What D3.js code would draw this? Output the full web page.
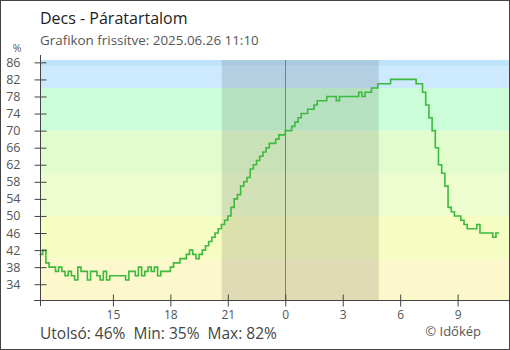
<!DOCTYPE html>
<html>
<head>
<meta charset="utf-8">
<script src="https://cdn.jsdelivr.net/npm/d3@7"></script>
<style>
body { margin: 0; background: #fff; }
text { font-family: "Open Sans", sans-serif; }
</style>
</head>
<body>
<div id="chart"></div>
<script>
var w = 510, h = 350;

// humidity, every 10 minutes from 2025.06.25 11:10 to 2025.06.26 11:10
var humidity = [
	41, 42, 39, 38, 38, 37, 38, 37, 36, 37, 36, 35, 38, 37, 37, 35, 37, 37, 36, 35,
	37, 35, 36, 36, 36, 36, 36, 35, 37, 37, 36, 38, 36, 37, 38, 37, 38, 36, 37, 37,
	37, 38, 39, 39, 40, 40, 41, 42, 41, 40, 41, 42, 43, 44, 45, 46, 47, 48, 49, 50,
	52, 54, 55, 57, 58, 59, 61, 62, 63, 64, 65, 66, 67, 67, 68, 69, 69, 70, 70, 71,
	72, 73, 74, 74, 75, 75, 76, 77, 77, 77, 78, 78, 78, 77, 78, 78, 78, 78, 78, 78,
	79, 78, 79, 79, 80, 80, 81, 81, 81, 81, 82, 82, 82, 82, 82, 82, 82, 82, 81, 81,
	79, 76, 73, 70, 66, 62, 60, 57, 52, 51, 50, 50, 49, 48, 47, 47, 47, 48, 46, 46,
	46, 46, 45, 46, 46
];
var startTime = Date.UTC(2025, 5, 25, 11, 10);
var stepMinutes = 10;

var xTicks = [15, 18, 21, 0, 3, 6, 9];
var yTicks = [86, 82, 78, 74, 70, 66, 62, 58, 54, 50, 46, 42, 38, 34];

// background bands (lower bound, upper bound, colour)
var bandLow = [0, 40, 50, 60, 70, 80, 85];
var bandHigh = [40, 50, 60, 70, 80, 85, 100];
var bandColors = ["#fdf7cc", "#f6fdc3", "#eefdcf", "#e1fdcd", "#ccfdd9", "#cce9fe", "#bee3fb"];

// night (sunset - sunrise)
var sunset = Date.UTC(2025, 5, 25, 20, 41);
var sunrise = Date.UTC(2025, 5, 26, 4, 53);
var midnight = Date.UTC(2025, 5, 26, 0, 0);

var title = "Decs - Páratartalom";
var subtitle = "Grafikon frissítve: 2025.06.26 11:10";
var summary = "Utolsó: 46%\u00a0\u00a0Min: 35%\u00a0\u00a0Max: 82%";
var credit = "© Időkép";

var data = humidity.map(function(v, i) {
	return { t: new Date(startTime + i * stepMinutes * 60000), v: v };
});

var plot = { left: 40, right: 509, top: 60, bottom: 300 };

var x = d3.scaleUtc()
	.domain([new Date(startTime), new Date(Date.UTC(2025, 5, 26, 11, 40))])
	.range([39.5, 508.7]);

var y = d3.scaleLinear()
	.domain([30.3, 86.55])
	.range([plot.bottom, plot.top]);

var svg = d3.select("#chart").append("svg")
	.attr("width", w)
	.attr("height", h);

svg.append("rect")
	.attr("width", w)
	.attr("height", h)
	.attr("fill", "#fff");

svg.append("defs").append("clipPath")
	.attr("id", "plotClip")
	.append("rect")
	.attr("x", plot.left)
	.attr("y", plot.top)
	.attr("width", plot.right - plot.left)
	.attr("height", plot.bottom - plot.top);

var bands = svg.append("g").attr("clip-path", "url(#plotClip)");

bands.selectAll("rect.band")
	.data(bandColors)
	.enter().append("rect")
	.attr("class", "band")
	.attr("x", plot.left)
	.attr("width", plot.right - plot.left)
	.attr("y", function(d, i) { return y(Math.min(bandHigh[i], 86.55)); })
	.attr("height", function(d, i) { return Math.max(0, y(Math.max(bandLow[i], 30.3)) - y(Math.min(bandHigh[i], 86.55))); })
	.attr("fill", function(d) { return d; });

// night shading
bands.append("rect")
	.attr("x", x(new Date(sunset)))
	.attr("y", plot.top)
	.attr("width", x(new Date(sunrise)) - x(new Date(sunset)))
	.attr("height", plot.bottom - plot.top)
	.attr("fill", "rgba(0,0,0,0.11)");

// midnight line
svg.append("line")
	.attr("x1", Math.round(x(new Date(midnight))) + 0.5)
	.attr("x2", Math.round(x(new Date(midnight))) + 0.5)
	.attr("y1", plot.top)
	.attr("y2", plot.bottom)
	.style("stroke", "#3a8fd9")
	.style("stroke-width", 1);

var line = d3.line()
	.x(function(d) { return x(d.t); })
	.y(function(d) { return y(d.v); })
	.curve(d3.curveStepAfter);

svg.append("path")
	.datum(data)
	.attr("d", line)
	.attr("fill", "none")
	.style("stroke", "#3dba3d")
	.style("stroke-width", 1.6);

// y axis
var yAxis = d3.axisLeft(y)
	.tickValues(yTicks)
	.tickSize(0)
	.tickPadding(0)
	.tickFormat(d3.format("d"));

var yG = svg.append("g")
	.attr("transform", "translate(" + 40.5 + ",0)")
	.call(yAxis);
yG.select(".domain").remove();
yG.selectAll(".tick text")
	.attr("x", -20)
	.attr("dy", "0.32em")
	.style("font-size", "12.5px")
	.style("fill", "#555");
yG.selectAll(".tick").append("line")
	.attr("x1", -6)
	.attr("x2", 6)
	.style("stroke", "#444");

svg.append("line")
	.attr("x1", 40.5).attr("x2", 40.5)
	.attr("y1", 55).attr("y2", 306)
	.style("stroke", "#444");

svg.append("text")
	.attr("x", 17)
	.attr("y", 52)
	.attr("text-anchor", "middle")
	.text("%")
	.style("font-size", "10.5px")
	.style("fill", "#555");

// x axis
var xTickDates = xTicks.map(function(hr) {
	var day = hr >= 12 ? 25 : 26;
	return new Date(Date.UTC(2025, 5, day, hr, 0));
});

var xAxis = d3.axisBottom(x)
	.tickValues(xTickDates)
	.tickSize(0)
	.tickPadding(0)
	.tickFormat(d3.utcFormat("%-H"));

var xG = svg.append("g")
	.attr("transform", "translate(0," + 300.5 + ")")
	.call(xAxis);
xG.select(".domain").remove();
xG.selectAll(".tick text")
	.attr("y", 18)
	.attr("dy", 0)
	.style("font-size", "12px")
	.style("fill", "#555");
xG.selectAll(".tick").append("line")
	.attr("y1", -6)
	.attr("y2", 6)
	.style("stroke", "#444");

svg.append("line")
	.attr("x1", 34).attr("x2", 509)
	.attr("y1", 300.5).attr("y2", 300.5)
	.style("stroke", "#444");

// texts
svg.append("text")
	.attr("x", 40)
	.attr("y", 24)
	.text(title)
	.style("font-size", "16px")
	.style("fill", "#222");

svg.append("text")
	.attr("x", 40)
	.attr("y", 45)
	.text(subtitle)
	.style("font-size", "13.4px")
	.style("fill", "#555");

svg.append("text")
	.attr("x", 40)
	.attr("y", 338.5)
	.text(summary)
	.style("font-size", "15.5px")
	.style("fill", "#444");

svg.append("text")
	.attr("x", 481)
	.attr("y", 336)
	.attr("text-anchor", "end")
	.text(credit)
	.style("font-size", "13px")
	.style("fill", "#555");

// frame
svg.append("rect")
	.attr("x", 0.5)
	.attr("y", 0.5)
	.attr("width", w - 1)
	.attr("height", h - 1)
	.attr("fill", "none")
	.style("stroke", "#444");
</script>
</body>
</html>
